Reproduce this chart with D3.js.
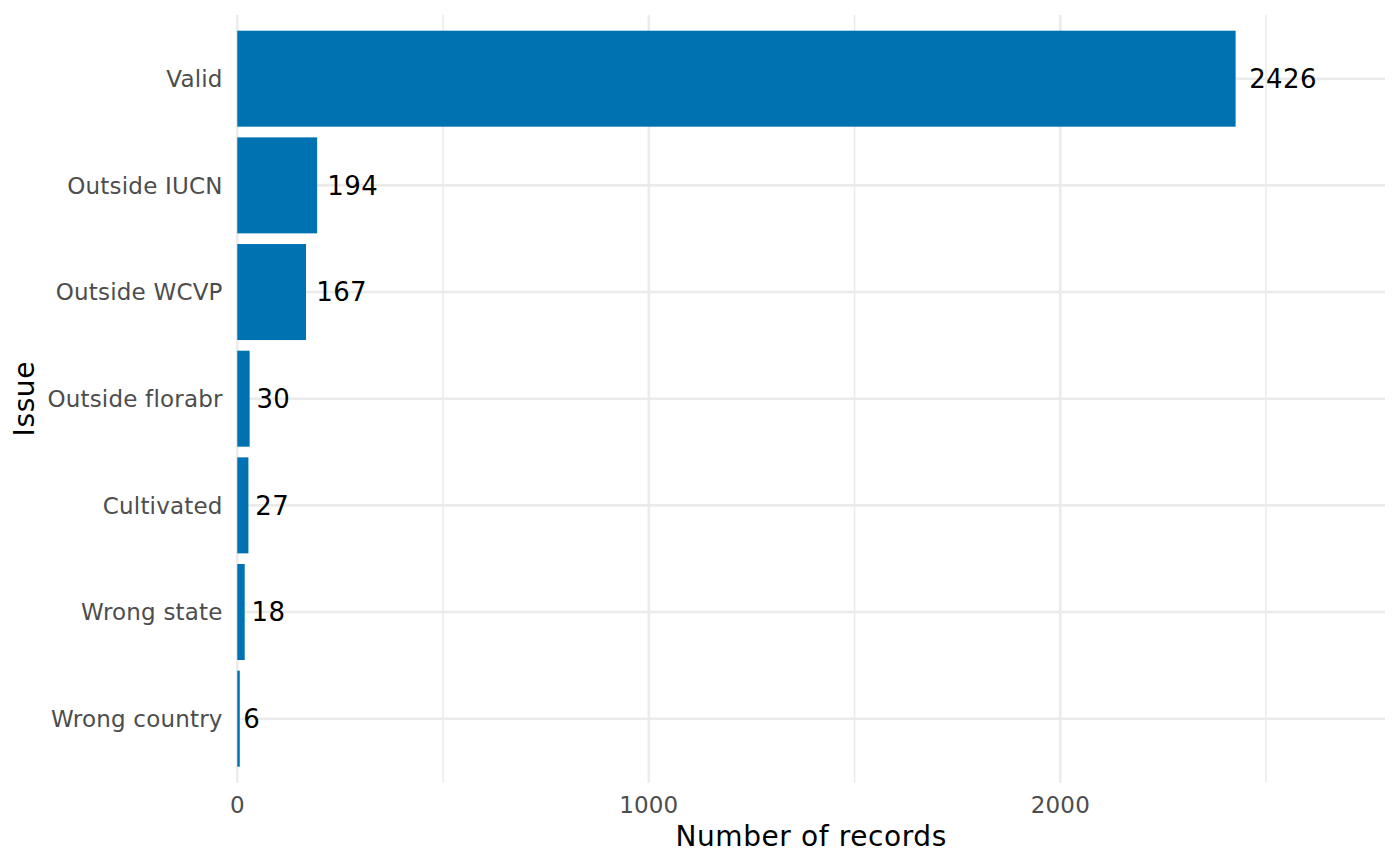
<!DOCTYPE html>
<html>
<head>
<meta charset="utf-8">
<script src="https://cdn.jsdelivr.net/npm/d3@7"></script>
<style>
  body { margin: 0; background: #fff; }
  text { font-family: "DejaVu Sans", sans-serif; }
</style>
</head>
<body>
<svg id="chart" width="1400" height="866"></svg>
<script>
const categories = ["Valid", "Outside IUCN", "Outside WCVP", "Outside florabr", "Cultivated", "Wrong state", "Wrong country"];
const counts = [2426, 194, 167, 30, 27, 18, 6];
const majorTicks = [0, 1000, 2000];
const minorTicks = [500, 1500, 2500];
const xTitle = "Number of records";
const yTitle = "Issue";

const svg = d3.select("#chart");
const pLeft = 237.3, pRight = 1385, pTop = 14.7, pBottom = 782.7;

const x = d3.scaleLinear().domain([0, 2789]).range([pLeft, pRight]);
// ggplot discrete expansion of 0.6 units on each side
const step = (pBottom - pTop) / (categories.length - 1 + 1.2);
const y = d3.scalePoint().domain(categories)
  .range([pTop + 0.6 * step, pBottom - 0.6 * step]);
const barH = 0.9 * step;

const grid = svg.append("g");
grid.selectAll(".minor").data(minorTicks).join("line")
  .attr("x1", d => x(d)).attr("x2", d => x(d))
  .attr("y1", pTop).attr("y2", pBottom)
  .attr("stroke", "#EBEBEB").attr("stroke-width", 1.5);
grid.selectAll(".majorx").data(majorTicks).join("line")
  .attr("x1", d => x(d)).attr("x2", d => x(d))
  .attr("y1", pTop).attr("y2", pBottom)
  .attr("stroke", "#EBEBEB").attr("stroke-width", 2.6);
grid.selectAll(".majory").data(categories).join("line")
  .attr("x1", pLeft).attr("x2", pRight)
  .attr("y1", d => y(d)).attr("y2", d => y(d))
  .attr("stroke", "#EBEBEB").attr("stroke-width", 2.6);

const data = categories.map((c, i) => ({ c, v: counts[i] }));

svg.append("g").selectAll("rect").data(data).join("rect")
  .attr("x", x(0))
  .attr("y", d => y(d.c) - barH / 2)
  .attr("width", d => x(d.v) - x(0))
  .attr("height", barH)
  .attr("fill", "#0072B2");

const labFs = 26;
svg.append("g").selectAll("text").data(data).join("text")
  .attr("font-size", labFs)
  .attr("letter-spacing", 0.4)
  .attr("fill", "#000")
  .attr("y", d => y(d.c) + 0.36 * labFs)
  .text(d => d.v)
  .each(function(d) {
    const w = this.getComputedTextLength();
    d3.select(this).attr("x", x(d.v) + 0.2 * w);
  });

// y tick labels
const tickFs = 23;
svg.append("g").selectAll("text").data(categories).join("text")
  .attr("x", 222.7)
  .attr("y", d => y(d) + 0.36 * tickFs)
  .attr("text-anchor", "end")
  .attr("font-size", tickFs)
  .attr("letter-spacing", 0.2)
  .attr("fill", "#4D4D4D")
  .text(d => d);

// x tick labels
svg.append("g").selectAll("text").data(majorTicks).join("text")
  .attr("x", d => x(d))
  .attr("y", 813)
  .attr("text-anchor", "middle")
  .attr("font-size", tickFs)
  .attr("letter-spacing", 0.2)
  .attr("fill", "#4D4D4D")
  .text(d => d);

const titleFs = 28;
svg.append("text")
  .attr("x", (pLeft + pRight) / 2).attr("y", 845.5)
  .attr("text-anchor", "middle")
  .attr("font-size", titleFs).attr("letter-spacing", 0.6).attr("fill", "#000")
  .text(xTitle);

svg.append("text")
  .attr("transform", `translate(34,${(pTop + pBottom) / 2}) rotate(-90)`)
  .attr("text-anchor", "middle")
  .attr("font-size", titleFs).attr("letter-spacing", 0.6).attr("fill", "#000")
  .text(yTitle);
</script>
</body>
</html>
